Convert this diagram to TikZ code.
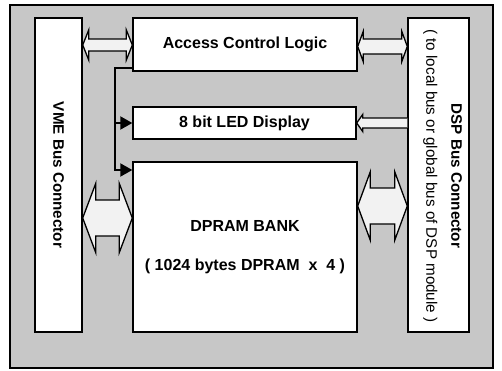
\documentclass[tikz,border=0pt]{standalone}
\usepackage{fontspec}
\setmainfont{Liberation Sans}
\usetikzlibrary{positioning}
\usetikzlibrary{calc, arrows.meta}

% wide hollow bus arrow with a head on each end
\newcommand{\dblarrow}[5]{%
  \draw[hollow] (#1) -- ++(#5,-#4) -- ++(0,{#4-#3}) -- ($(#2)+(-#5,-#3)$) -- ++(0,{#3-#4})
    -- (#2) -- ++(-#5,#4) -- ++(0,{#3-#4}) -- ($(#1)+(#5,#3)$) -- ++(0,{#4-#3}) -- cycle;}

\begin{document}
\begin{tikzpicture}[x=1pt,y=-1pt,
  box/.style={draw=black,fill=white,line width=1.4pt,inner sep=0pt},
  lbl/.style={font=\bfseries\fontsize{16}{19}\selectfont,align=center},
  vlbl/.style={font=\bfseries\fontsize{15.2}{19}\selectfont,align=center,rotate=-90},
  hollow/.style={draw=black,fill=black!5,line width=1.3pt,line join=miter},
  busline/.style={line width=2pt}]
\useasboundingbox (0,0) rectangle (502,371);
\draw[fill=black!22,line width=2pt] (10,5) rectangle (493,368);

\node[box,minimum width=47pt,minimum height=314pt] (vme) at (58.5,175) {};
\node[box,minimum width=61pt,minimum height=314pt] (dsp) at (438.5,175) {};
\node[box,lbl,minimum width=224pt,minimum height=53pt] (acl) at (245,44.5) {Access Control Logic};
\node[box,lbl,minimum width=223pt,minimum height=32pt] (led) at (244.5,123) {8 bit LED Display};
\node[box,lbl,minimum width=224pt,minimum height=170pt] (dpram) at (245,247)
  {DPRAM BANK\\[20pt]( 1024 bytes DPRAM\ \ x\ \ 4 )};

\node[vlbl] (vmetext) at (vme) {VME Bus Connector};
\node[vlbl] (dsptext) at ($(dsp)+(4,1)$) {DSP Bus Connector\\[6pt]{\mdseries ( to local bus or global bus of DSP module )}};

% control bus from the access logic
\coordinate (bus) at (115,68);
\draw[busline,-{Triangle[length=12pt,width=13pt]}] (acl.west |- bus) -- (bus) -- (bus |- 0,170) -- (dpram.west |- 0,170);
\draw[busline,-{Triangle[length=12pt,width=13pt]}] (bus |- led.west) -- (led.west);

% data buses
\dblarrow{vme.east |- 0,45}{acl.west |- 0,45}{6}{15}{6}
\dblarrow{acl.east |- 0,46.5}{dsp.west |- 0,46.5}{7.5}{15}{5.5}
\dblarrow{vme.east |- 0,218}{dpram.west |- 0,218}{18}{34.5}{13}
\dblarrow{dpram.east |- 0,206}{dsp.west |- 0,206}{18}{34}{12.5}

\draw[hollow] (dsp.west |- 0,118) -- ($(led.east)+(6,-5)$) -- ++(0,-3.5) -- (led.east)
  -- ++(6,8.5) -- ++(0,-3.5) -- (dsp.west |- 0,128);

\end{tikzpicture}
\end{document}
